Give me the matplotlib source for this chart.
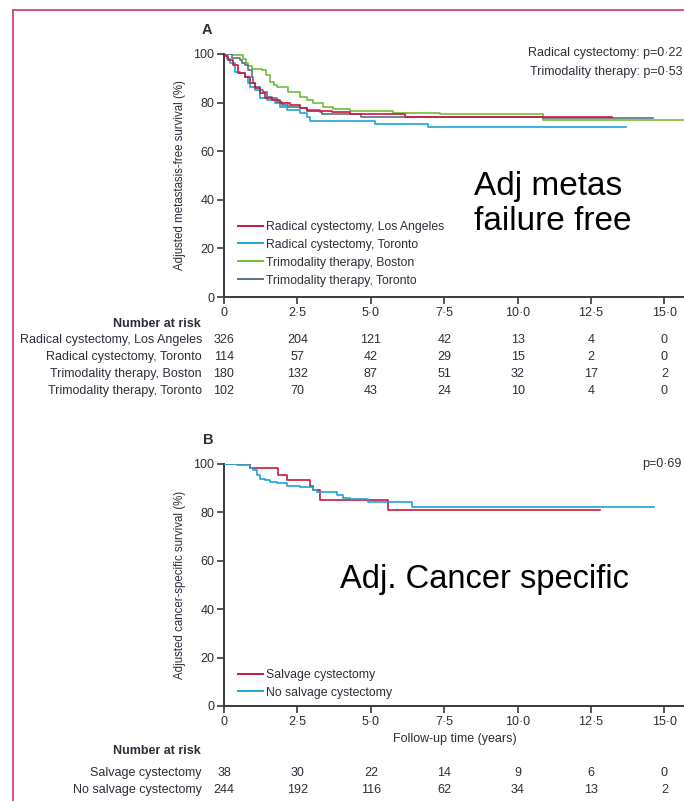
import matplotlib
matplotlib.use("Agg")
import matplotlib.pyplot as plt
from matplotlib import font_manager
from matplotlib.transforms import blended_transform_factory
from matplotlib.lines import Line2D

# ---- fonts ----
available = {f.name for f in font_manager.fontManager.ttflist}
NARROW = "Liberation Sans Narrow" if "Liberation Sans Narrow" in available else "Liberation Sans"
plt.rcParams["font.family"] = [NARROW, "DejaVu Sans"]

# ---- colours ----
RED = "#c8193f"
CYAN = "#1aa6d6"
GREEN = "#72bf3c"
GREY = "#5d6f7e"
TXT = "#2e2e3a"
FRAME = "#d4466a"

# ---- panel A: adjusted metastasis-free survival (step curves, years / %) ----
la_rc_t = [0, 0.03, 0.14, 0.31, 0.48, 0.71, 0.88, 1.05, 1.22, 1.39, 1.63, 1.90, 2.24, 2.59, 2.82, 3.67, 4.29, 6.16, 13.23]
la_rc_s = [100, 99, 97.5, 95.5, 92, 90.5, 88, 86, 84, 82, 81, 79.8, 79, 77.8, 76.6, 76, 75.3, 74.2, 74.2]

tor_rc_t = [0, 0.10, 0.20, 0.37, 0.54, 0.71, 0.82, 0.88, 1.05, 1.22, 1.46, 1.73, 1.90, 2.14, 2.59, 2.82, 2.93, 5.14, 6.94, 13.70]
tor_rc_s = [100, 98, 96.3, 92.6, 92, 90.5, 88, 86.4, 85, 82, 81, 79.8, 78.2, 77, 75.7, 74, 72.5, 71, 69.8, 69.8]

bos_tmt_t = [0, 0.31, 0.65, 0.75, 0.82, 0.95, 1.29, 1.43, 1.56, 1.70, 1.80, 2.18, 2.59, 2.82, 3.03, 3.37, 3.71, 4.29, 5.75, 7.35, 10.85, 15.70]
bos_tmt_s = [100, 99.5, 98, 96.3, 95, 94, 93.4, 91.5, 88.5, 87.3, 86.4, 84.4, 82.3, 81, 79.8, 78.2, 77.4, 76.5, 75.7, 75.3, 72.8, 72.8]

tor_tmt_t = [0, 0.27, 0.54, 0.61, 0.71, 0.82, 0.95, 0.99, 1.05, 1.22, 1.33, 1.46, 1.63, 1.80, 1.97, 2.18, 2.59, 2.82, 3.27, 3.33, 4.66, 10.85, 14.60]
tor_tmt_s = [100, 98.4, 97.5, 96.3, 95.5, 93.4, 90.5, 88, 86.4, 85.2, 84.4, 82.3, 81.9, 80.2, 79, 78.2, 77.8, 77, 76.1, 75.3, 74, 73.5, 73.5]

labels_a = ["Radical cystectomy, Los\u2009Angeles", "Radical cystectomy, Toronto",
            "Trimodality therapy, Boston", "Trimodality therapy, Toronto"]
risk_labels_a = ["Radical cystectomy, Los Angeles", "Radical cystectomy, Toronto",
                 "Trimodality therapy, Boston", "Trimodality therapy, Toronto"]
risk_a = [
    [326, 204, 121, 42, 13, 4, 0],
    [114, 57, 42, 29, 15, 2, 0],
    [180, 132, 87, 51, 32, 17, 2],
    [102, 70, 43, 24, 10, 4, 0],
]

# ---- panel B: adjusted cancer-specific survival ----
salv_t = [0, 0.88, 1.84, 2.14, 2.93, 3.03, 3.27, 5.58, 12.80]
salv_s = [100, 98.2, 95.6, 93.2, 90.9, 89.3, 85.1, 81, 81]

nosalv_t = [0, 0.44, 0.88, 0.99, 1.12, 1.22, 1.39, 1.56, 1.80, 2.14, 2.59, 3.03, 3.16, 3.84, 4.05, 4.29, 4.90, 6.39, 14.66]
nosalv_s = [100, 99.5, 98.2, 97.5, 95.5, 94, 93.4, 92.7, 92, 91, 90.6, 89.3, 88.5, 87.2, 86, 85.4, 84.2, 82.1, 82.1]

labels_b = ["Salvage cystectomy", "No salvage cystectomy"]
risk_b = [
    [38, 30, 22, 14, 9, 6, 0],
    [244, 192, 116, 62, 34, 13, 2],
]

x_ticks = [0, 2.5, 5.0, 7.5, 10.0, 12.5, 15.0]
x_tick_labels = ["0", "2\u00b75", "5\u00b70", "7\u00b75", "10\u00b70", "12\u00b75", "15\u00b70"]
y_ticks = [0, 20, 40, 60, 80, 100]

FS = 9.0      # body text size
W, H = 684, 801
fig = plt.figure(figsize=(W / 100, H / 100), dpi=100)


def fx(px):
    return px / W


def fy(py):
    return 1 - py / H


def style_axes(ax):
    ax.set_xlim(0, 15.7)
    ax.set_ylim(0, 100)
    ax.set_xticks(x_ticks)
    ax.set_xticklabels(x_tick_labels)
    ax.set_yticks(y_ticks)
    for s in ("top", "right"):
        ax.spines[s].set_visible(False)
    for s in ("left", "bottom"):
        ax.spines[s].set_color("#3a3a3a")
        ax.spines[s].set_linewidth(1.4)
    ax.tick_params(direction="out", length=5, width=1.2, color="#3a3a3a",
                   labelsize=FS, labelcolor=TXT, pad=2)
    ax.patch.set_alpha(0)


def add_legend(ax, colors, labels, y_anchor):
    handles = [Line2D([], [], color=c, lw=1.4) for c in colors]
    ax.legend(handles, labels, loc="lower left", bbox_to_anchor=(0.012, y_anchor),
              frameon=False, fontsize=8.8, handlelength=2.0, handletextpad=0.25,
              labelspacing=0.48, labelcolor=TXT, borderaxespad=0.3)


x_left, x_right = 224, 685

# Panel A
axA = fig.add_axes([fx(x_left), fy(297), fx(x_right - x_left), (297 - 54) / H])
style_axes(axA)
lw = 1.2
axA.step(la_rc_t, la_rc_s, where="post", color=RED, lw=lw, zorder=4)
axA.step(tor_rc_t, tor_rc_s, where="post", color=CYAN, lw=lw, zorder=3)
axA.step(bos_tmt_t, bos_tmt_s, where="post", color=GREEN, lw=lw, zorder=2)
axA.step(tor_tmt_t, tor_tmt_s, where="post", color=GREY, lw=lw, zorder=3)
axA.set_ylabel("Adjusted metastasis-free survival (%)", fontsize=8.3, color=TXT, labelpad=5)
add_legend(axA, (RED, CYAN, GREEN, GREY), labels_a, 0.008)

fig.text(fx(207), fy(30), "A", fontsize=10.5, fontweight="bold", color=TXT, ha="center", va="center")
fig.text(fx(682), fy(53), "Radical cystectomy: p=0\u00b722", fontsize=FS, color=TXT, ha="right", va="center")
fig.text(fx(682), fy(72), "Trimodality therapy: p=0\u00b753", fontsize=FS, color=TXT, ha="right", va="center")

fig.text(fx(474), fy(195), "Adj metas", fontsize=24, family="Liberation Sans", color="black", ha="left", va="baseline")
fig.text(fx(474), fy(230), "failure free", fontsize=24, family="Liberation Sans", color="black", ha="left", va="baseline")

# Number-at-risk table A
trA = blended_transform_factory(axA.transData, fig.transFigure)
fig.text(fx(201), fy(324), "Number at risk", fontsize=FS, fontweight="bold", color=TXT, ha="right", va="center")
rows_a_y = [340, 357, 374, 391]
for lab, counts, ry in zip(risk_labels_a, risk_a, rows_a_y):
    fig.text(fx(202), fy(ry), lab, fontsize=FS, color=TXT, ha="right", va="center")
    for xv, n in zip(x_ticks, counts):
        axA.text(xv, fy(ry), str(n), transform=trA, fontsize=FS, color=TXT, ha="center", va="center")

# Panel B
axB = fig.add_axes([fx(x_left), fy(706), fx(x_right - x_left), (706 - 464) / H])
style_axes(axB)
axB.step(salv_t, salv_s, where="post", color=RED, lw=lw, zorder=3)
axB.step(nosalv_t, nosalv_s, where="post", color=CYAN, lw=lw, zorder=4)
axB.set_ylabel("Adjusted cancer-specific survival (%)", fontsize=8.3, color=TXT, labelpad=5)
axB.set_xlabel("Follow-up time (years)", fontsize=FS, color=TXT, labelpad=4)
add_legend(axB, (RED, CYAN), labels_b, -0.005)

fig.text(fx(208), fy(440), "B", fontsize=10.5, fontweight="bold", color=TXT, ha="center", va="center")
fig.text(fx(682), fy(464), "p=0\u00b769", fontsize=FS, color=TXT, ha="right", va="center")
fig.text(fx(340), fy(588), "Adj. Cancer specific", fontsize=23.5, family="Liberation Sans", color="black", ha="left", va="baseline")

trB = blended_transform_factory(axB.transData, fig.transFigure)
fig.text(fx(201), fy(751), "Number at risk", fontsize=FS, fontweight="bold", color=TXT, ha="right", va="center")
rows_b_y = [773, 790]
for lab, counts, ry in zip(labels_b, risk_b, rows_b_y):
    fig.text(fx(202), fy(ry), lab, fontsize=FS, color=TXT, ha="right", va="center")
    for xv, n in zip(x_ticks, counts):
        axB.text(xv, fy(ry), str(n), transform=trB, fontsize=FS, color=TXT, ha="center", va="center")

# Frame lines along the top and left edges
fig.add_artist(Line2D([fx(13), 1.0], [fy(10), fy(10)], transform=fig.transFigure, color=FRAME, lw=1.3))
fig.add_artist(Line2D([fx(13), fx(13)], [fy(10), 0.0], transform=fig.transFigure, color=FRAME, lw=1.3))

fig.savefig("out.png", dpi=100)
